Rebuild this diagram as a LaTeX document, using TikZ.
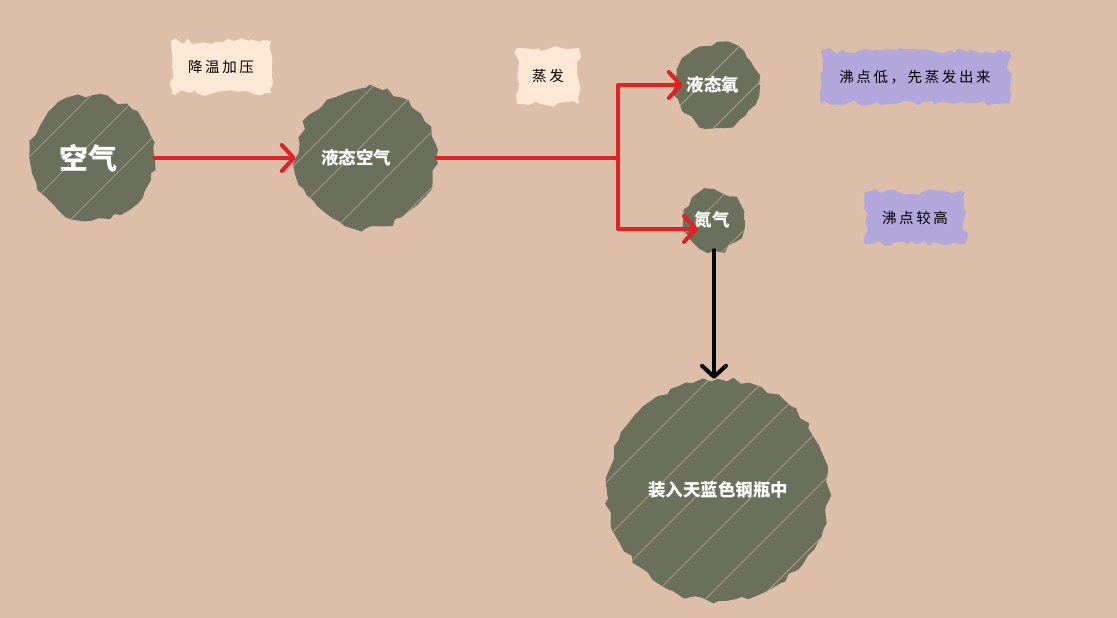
\documentclass[tikz,border=0pt]{standalone}
\usepackage{fontspec}
\newfontfamily\cjk{Noto Sans CJK SC}
\usetikzlibrary{arrows.meta,decorations.pathmorphing,calc}
\definecolor{bgc}{HTML}{DDBEA9}
\definecolor{blobc}{HTML}{6B705C}
\definecolor{peachc}{HTML}{FFE8D6}
\definecolor{purpc}{HTML}{B1A7DB}
\definecolor{redc}{HTML}{E02222}
\tikzset{
  blob/.style={circle, fill=blobc, inner sep=0pt, text=white,
    font=\cjk\bfseries\fontsize{17.5}{20}\selectfont,
    decorate, decoration={random steps, segment length=8pt, amplitude=3pt},
    path picture={
      \foreach \o in {-60,-32,-8,20,48,75}{
        \draw[bgc!60!blobc, line width=0.8pt]
          ($(path picture bounding box.center)+(\o,\o)+(-250,250)$) --
          ($(path picture bounding box.center)+(\o,\o)+(250,-250)$);
      }}},
  jag/.style={fill=#1, inner sep=0pt, text=black,
    font=\cjk\fontsize{14.5}{16}\selectfont\addfontfeatures{LetterSpace=18},
    decorate, decoration={random steps, segment length=6pt, amplitude=3pt}},
  redarrow/.style={draw=redc, line width=4pt, line cap=round, line join=round,
    -{Straight Barb[length=12pt, width=26pt, line cap=round, line join=round]}},
  redline/.style={draw=redc, line width=4pt, line cap=round, line join=round},
  blackarrow/.style={draw=black, line width=4pt, line cap=round, line join=round,
    -{Straight Barb[length=11pt, width=24pt, line cap=round, line join=round]}}
}
\begin{document}
\begin{tikzpicture}[x=1pt,y=-1pt]
\fill[bgc] (0,0) rectangle (1117,618);
\useasboundingbox (0,0) rectangle (1117,618);

% label patches
\node[jag=peachc, minimum width=100pt, minimum height=52pt] (l1) at (221,67) {降温加压};
\node[jag=peachc, minimum width=62pt, minimum height=56pt] (l2) at (548,76) {蒸发};
\node[jag=purpc, minimum width=188pt, minimum height=52pt] (l3) at (915,77) {沸点低，先蒸发出来};
\node[jag=purpc, minimum width=100pt, minimum height=52pt] (l4) at (915,218) {沸点较高};

% blobs
\node[blob, minimum size=124pt, font=\cjk\bfseries\fontsize{29}{32}\selectfont] (air) at (92,158) {空气\hspace*{8pt}};
\node[blob, minimum size=140pt] (la) at (366,158) {液态空气\hspace*{20pt}};
\node[blob, minimum size=84pt] (lo) at (717,85) {液态氧\hspace*{8pt}};
\node[blob, minimum size=60pt] (n2) at (714,220) {氮气\hspace*{4pt}};
\node[blob, minimum size=222pt] (tank) at (718,490) {装入天蓝色钢瓶中};

% connectors
\draw[redarrow] (air.east) -- (la.west);
\coordinate (br) at (618,158);
\draw[redline] (la.east) -- (br);
\draw[redarrow] (br) |- ([xshift=8pt]lo.west);
\draw[redarrow] (br) |- ($(n2.center)+(-16,9)$);
\draw[blackarrow] (n2.south) -- (n2.south |- tank.north);
\end{tikzpicture}
\end{document}
